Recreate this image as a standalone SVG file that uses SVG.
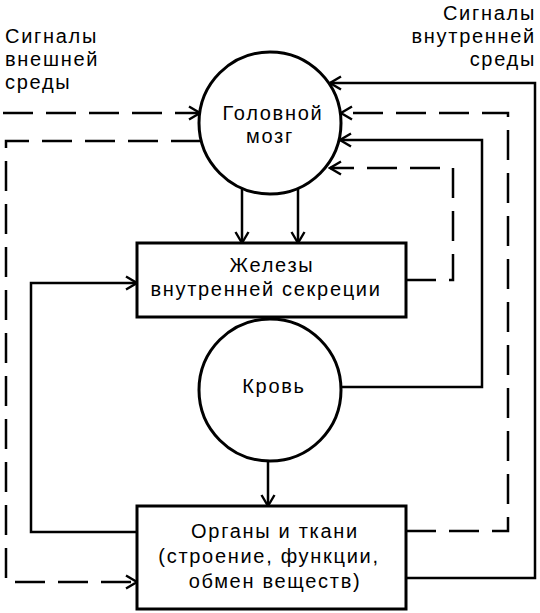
<svg xmlns="http://www.w3.org/2000/svg" width="540" height="613" viewBox="0 0 540 613">
<defs>
<marker id="arr" markerUnits="userSpaceOnUse" viewBox="-13 -8 15 16" refX="0" refY="0" markerWidth="15" markerHeight="16" orient="auto">
<path d="M-11,-6.5 L0,0 L-11,6.5" fill="none" stroke="#000" stroke-width="2.4" stroke-dasharray="none"/>
</marker>
<style>
.n{fill:#fff;stroke:#000;stroke-width:3}
.t{font-family:"Liberation Sans",Arial,sans-serif;font-size:20px;fill:#000;letter-spacing:1.7px}
.c{text-anchor:middle}
.e{text-anchor:end}
.s{fill:none;stroke:#000;stroke-width:2.5}
.d{fill:none;stroke:#000;stroke-width:2.5;stroke-dasharray:30 13}
</style>
</defs>
<rect width="540" height="613" fill="#fff"/>
<g id="connectors">
<path class="s" d="M242,188 V243" marker-end="url(#arr)"/>
<path class="s" d="M298,188 V243" marker-end="url(#arr)"/>
<path class="s" d="M268,461 V506" marker-end="url(#arr)"/>
<path class="s" d="M406,578 H535 V83 H330" marker-end="url(#arr)"/>
<path class="d" d="M406,531 H508 V113 H341" marker-end="url(#arr)"/>
<path class="s" d="M341,387 H482 V140 H340" marker-end="url(#arr)"/>
<path class="d" d="M406,280 H453 V168 H330" marker-end="url(#arr)"/>
<path class="d" d="M3,113 H200" marker-end="url(#arr)"/>
<path class="d" d="M201,141 H6 V582 H137" marker-end="url(#arr)"/>
<path class="s" d="M137,532 H31 V283 H137" marker-end="url(#arr)"/>
</g>
<g id="brain">
<circle class="n" cx="270" cy="123" r="71"/>
<text class="t c" x="273" y="120">Головной</text>
<text class="t c" x="270" y="143">мозг</text>
</g>
<g id="glands">
<rect class="n" x="137" y="243" width="269" height="74"/>
<text class="t c" x="272" y="272">Железы</text>
<text class="t c" x="266" y="296">внутренней секреции</text>
</g>
<g id="blood">
<circle class="n" cx="270" cy="390" r="71"/>
<text class="t c" x="274" y="393">Кровь</text>
</g>
<g id="organs">
<rect class="n" x="137" y="506" width="269" height="103"/>
<text class="t c" x="275" y="538">Органы и ткани</text>
<text class="t c" x="269" y="563">(строение, функции,</text>
<text class="t c" x="275" y="588">обмен веществ)</text>
</g>
<g id="label-external">
<text class="t" x="5" y="43">Сигналы</text>
<text class="t" x="5" y="66">внешней</text>
<text class="t" x="5" y="89">среды</text>
</g>
<g id="label-internal">
<text class="t e" x="536" y="20">Сигналы</text>
<text class="t e" x="536" y="43">внутренней</text>
<text class="t e" x="536" y="66">среды</text>
</g>
</svg>
